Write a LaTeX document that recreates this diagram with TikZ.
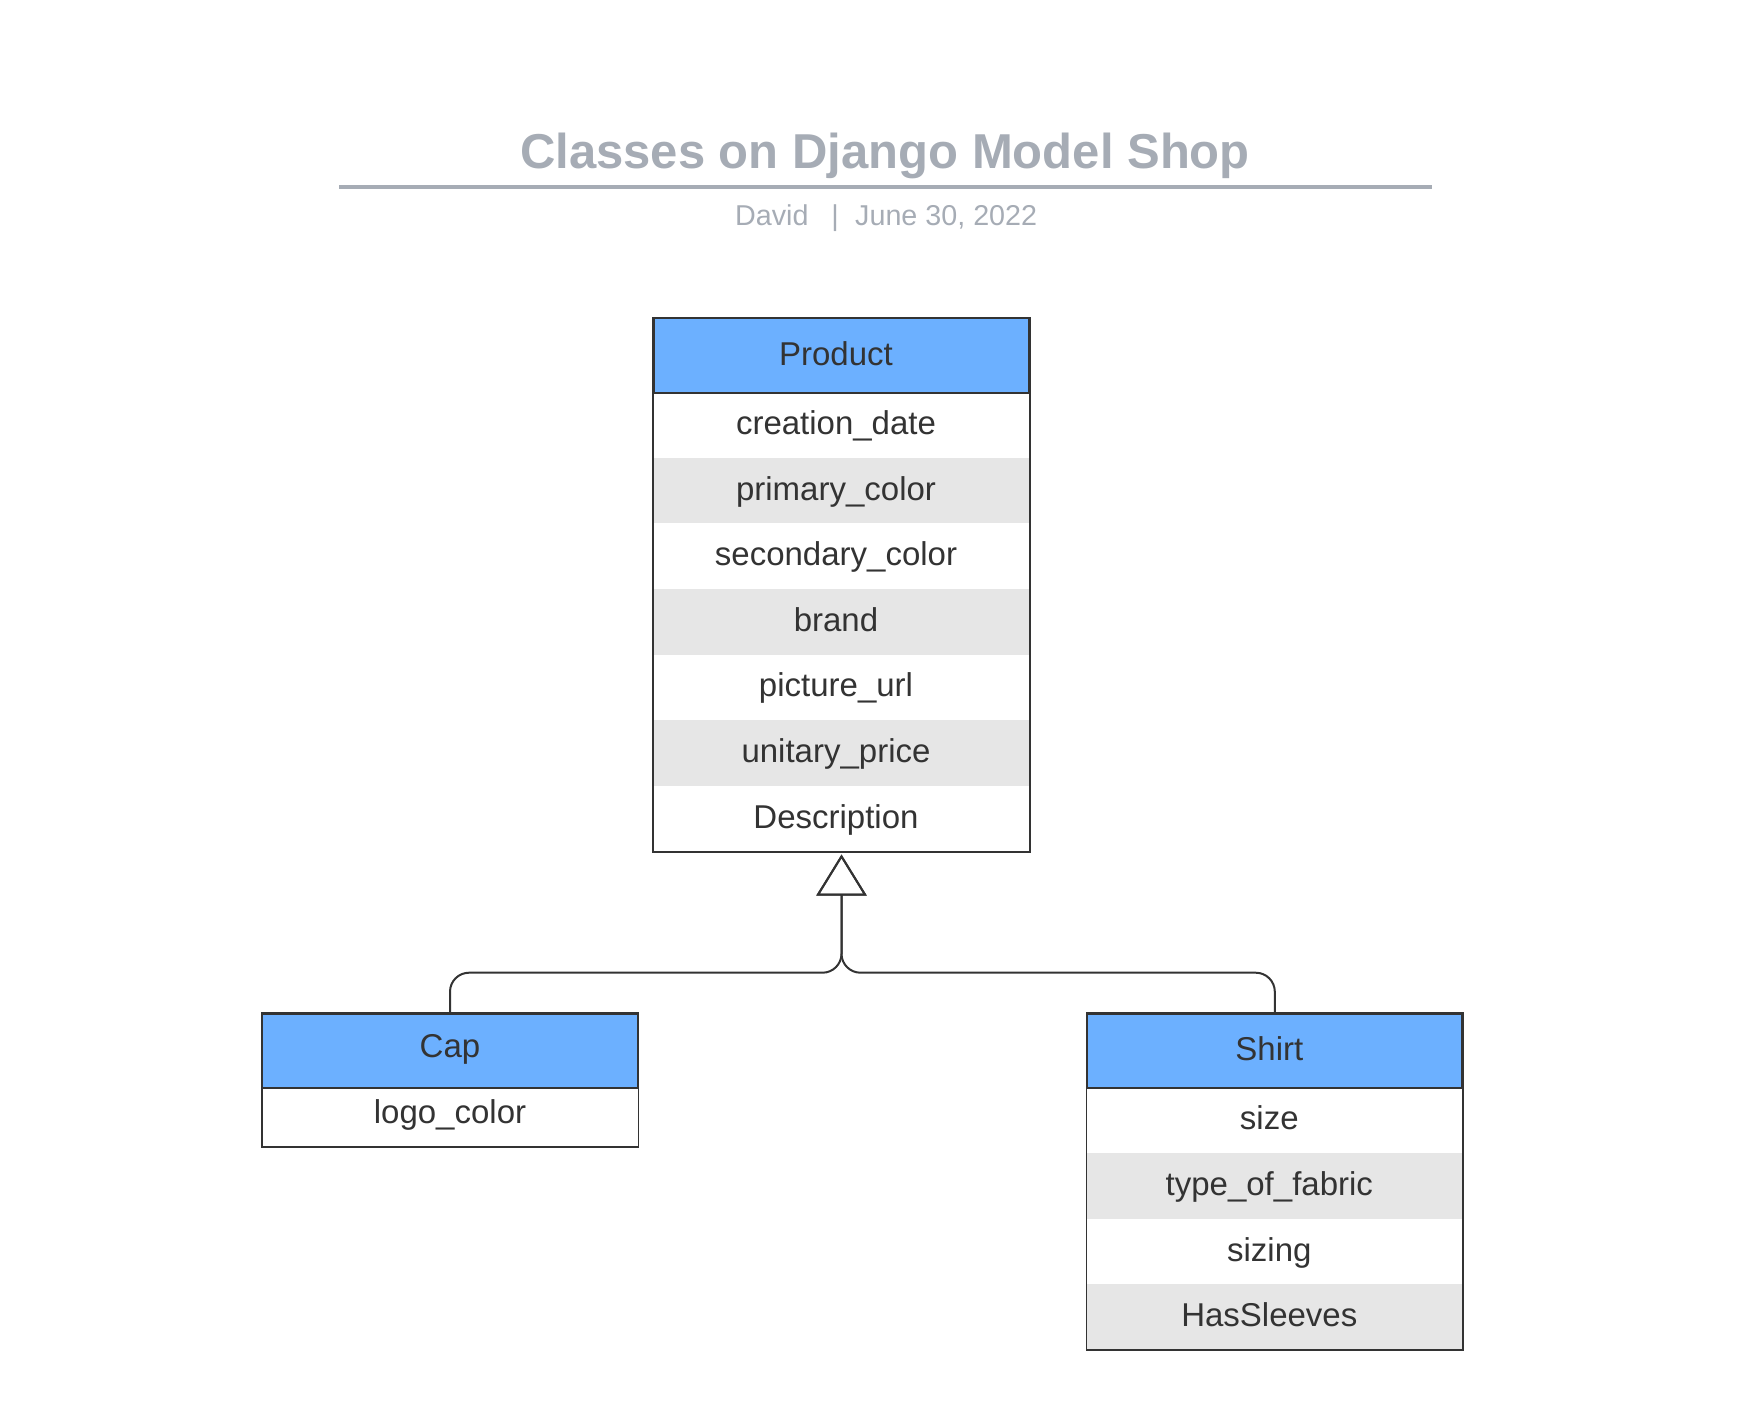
\documentclass[tikz,border=0pt]{standalone}
\usepackage{fontspec}
\setmainfont{Liberation Sans}
\usetikzlibrary{arrows.meta,fit}
\definecolor{hdrblue}{RGB}{108,176,255}
\definecolor{rowgray}{RGB}{230,230,230}
\definecolor{txt}{RGB}{51,51,51}
\definecolor{linec}{RGB}{51,51,51}
\definecolor{titlegray}{RGB}{166,172,181}
\tikzset{
  cell/.style={rectangle, inner sep=0pt, minimum width=375pt, text=txt,
    font=\fontsize{33}{39}\selectfont, text height=24pt, text depth=5pt, anchor=north},
  hdr/.style={cell, fill=hdrblue, draw=linec, line width=1.8pt, minimum height=74.6pt},
  rowa/.style={cell, fill=white, minimum height=65.6pt},
  rowb/.style={cell, fill=rowgray, minimum height=65.6pt},
  rowc/.style={cell, fill=white, minimum height=59.4pt, text height=18pt},
  lshift/.style={execute at begin node={\kern-11pt}},
  classbox/.style={rectangle, inner sep=0pt, draw=linec, line width=1.8pt},
  conn/.style={draw=linec, line width=2pt, rounded corners=19pt,
    -{Triangle[open, length=41pt, width=50pt, line width=2pt]}, shorten >=2pt},
  subtxt/.style={inner sep=0pt, text=titlegray, font=\fontsize{28.7}{34}\selectfont},
}
\begin{document}
\begin{tikzpicture}[x=1pt, y=-1pt]
\useasboundingbox (0,0) rectangle (1755,1425);
% title
\node[inner sep=0pt, anchor=base, text=titlegray, font=\fontsize{49}{58}\selectfont\bfseries] (title) at (885,168) {Classes on Django Model Shop};
\coordinate (tl) at (339,187);
\coordinate (tr) at (1432,187);
\draw[titlegray, line width=3.5pt] (tl) -- (tr);
\node[subtxt, anchor=base west] (author) at (735,225.5) {David};
\node[subtxt, anchor=base] (sep) at (835,225.5) {|};
\node[subtxt, anchor=base west] (date) at (855,225.5) {June 30, 2022};
% Product
\node[rowa, lshift] (p1) at (841.5,392) {creation\_date};
\node[rowb, lshift] (p2) at (841.5,457.6) {primary\_color};
\node[rowa, lshift] (p3) at (841.5,523.2) {secondary\_color};
\node[rowb, lshift] (p4) at (841.5,588.8) {brand};
\node[rowa, lshift] (p5) at (841.5,654.4) {picture\_url};
\node[rowb, lshift] (p6) at (841.5,720) {unitary\_price};
\node[rowa, lshift] (p7) at (841.5,785.6) {Description};
\node[hdr, lshift] (product) at (841.5,317.4) {Product};
\node[classbox, fit=(product)(p7)] (productbox) {};
% Cap
\node[rowc] (c1) at (450,1087.3) {logo\_color};
\node[hdr, text height=18.4pt] (cap) at (450,1012.7) {Cap};
\node[classbox, fit=(cap)(c1)] (capbox) {};
% Shirt
\node[rowa, lshift] (s1) at (1274.8,1087.3) {size};
\node[rowb, lshift] (s2) at (1274.8,1152.9) {type\_of\_fabric};
\node[rowa, lshift] (s3) at (1274.8,1218.5) {sizing};
\node[rowb, lshift] (s4) at (1274.8,1284.1) {HasSleeves};
\node[hdr, lshift] (shirt) at (1274.8,1012.7) {Shirt};
\node[classbox, fit=(shirt)(s4)] (shirtbox) {};
% inheritance
\coordinate (junc) at (841.5,972.7);
\draw[conn] (capbox.north) |- (junc) -- (productbox.south);
\draw[conn] (shirtbox.north) |- (junc) -- (productbox.south);
\end{tikzpicture}
\end{document}
